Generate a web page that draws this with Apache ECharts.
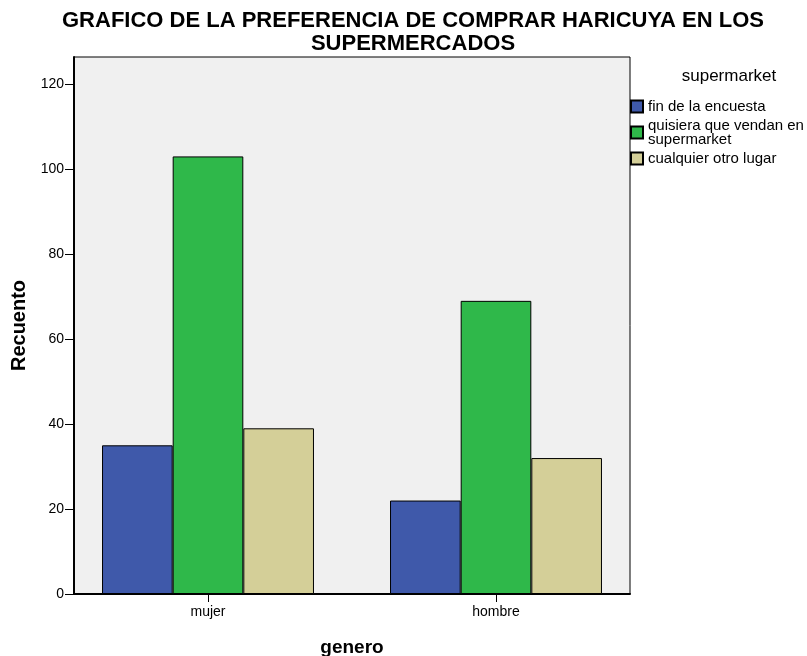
<!DOCTYPE html>
<html>
<head>
<meta charset="utf-8">
<script src="https://cdn.jsdelivr.net/npm/echarts@6/dist/echarts.min.js"></script>
<style>
html,body{margin:0;padding:0;background:#fff;}
#c{width:807px;height:656px;}
</style>
</head>
<body>
<div id="c"></div>
<script>
var categories = ['mujer', 'hombre'];
var seriesNames = ['fin de la encuesta', 'quisiera que vendan en supermarket', 'cualquier otro lugar'];
var finEncuesta = [35, 22];
var quisieraSuper = [103, 69];
var otroLugar = [39, 32];
var yTicks = [0, 20, 40, 60, 80, 100, 120];
var colors = ['#3f59aa', '#2fb84a', '#d4cf98'];

var chart = echarts.init(document.getElementById('c'), null, {renderer: 'canvas'});
var FONT = '"Liberation Sans", Arial, sans-serif';
var yMax = 126.4;

function mkSeries(name, data, color) {
  return {
    name: name, type: 'bar', data: data, xAxisIndex: 1, yAxisIndex: 1,
    barGap: '0%', barCategoryGap: '26.4%',
    itemStyle: {color: color, borderColor: '#000', borderWidth: 1},
    emphasis: {disabled: true}
  };
}

chart.setOption({
  animation: false,
  textStyle: {fontFamily: FONT},
  title: [
    {
      text: 'GRAFICO DE LA PREFERENCIA DE COMPRAR HARICUYA EN LOS\nSUPERMERCADOS',
      left: 413, top: 9, textAlign: 'center', padding: 0,
      textStyle: {fontFamily: FONT, fontSize: 22, fontWeight: 'bold', color: '#000', lineHeight: 23}
    },
    {
      text: 'supermarket',
      left: 729, top: 68, textAlign: 'center', padding: 0,
      textStyle: {fontFamily: FONT, fontSize: 17, fontWeight: 'normal', color: '#000'}
    }
  ],
  legend: {
    orient: 'vertical', left: 630, top: 99, padding: 0,
    itemWidth: 12, itemHeight: 12, itemGap: 4,
    icon: 'rect',
    data: seriesNames,
    formatter: function (n) { return n === seriesNames[1] ? 'quisiera que vendan en\nsupermarket' : n; },
    textStyle: {fontFamily: FONT, fontSize: 15, lineHeight: 14, color: '#000'},
    selectedMode: false
  },
  grid: [
    {left: 74, top: 57, width: 556, height: 537, outerBoundsMode: 'none', containLabel: false, show: true, backgroundColor: '#f0f0f0', borderColor: '#000', borderWidth: 1},
    {left: 64, top: 57, width: 576, height: 537, outerBoundsMode: 'none', containLabel: false}
  ],
  xAxis: [
    {
      gridIndex: 0, type: 'value', min: 0, max: 1,
      axisLine: {show: true, onZero: false, lineStyle: {color: '#000', width: 2}},
      axisTick: {show: false}, axisLabel: {show: false}, splitLine: {show: false},
      name: 'genero', nameLocation: 'middle', nameGap: 44,
      nameTextStyle: {fontFamily: FONT, fontSize: 19, fontWeight: 'bold', color: '#000'}
    },
    {
      gridIndex: 1, type: 'category', data: categories,
      axisLine: {show: false},
      axisTick: {show: true, alignWithLabel: true, length: 8, lineStyle: {color: '#000', width: 1}},
      axisLabel: {fontFamily: FONT, fontSize: 14, color: '#000', margin: 11}
    }
  ],
  yAxis: [
    {
      gridIndex: 0, type: 'value', min: 0, max: yMax,
      axisLine: {show: true, lineStyle: {color: '#000', width: 2}},
      axisTick: {show: true, length: 9, lineStyle: {color: '#000', width: 1}, customValues: yTicks},
      axisLabel: {fontFamily: FONT, fontSize: 14, color: '#000', margin: 10, customValues: yTicks},
      splitLine: {show: false},
      name: 'Recuento', nameLocation: 'middle', nameGap: 42,
      nameTextStyle: {fontFamily: FONT, fontSize: 20, fontWeight: 'bold', color: '#000'}
    },
    {
      gridIndex: 1, type: 'value', min: 0, max: yMax, show: false, splitLine: {show: false}
    }
  ],
  series: [
    mkSeries(seriesNames[0], finEncuesta, colors[0]),
    mkSeries(seriesNames[1], quisieraSuper, colors[1]),
    mkSeries(seriesNames[2], otroLugar, colors[2])
  ]
});
</script>
</body>
</html>
